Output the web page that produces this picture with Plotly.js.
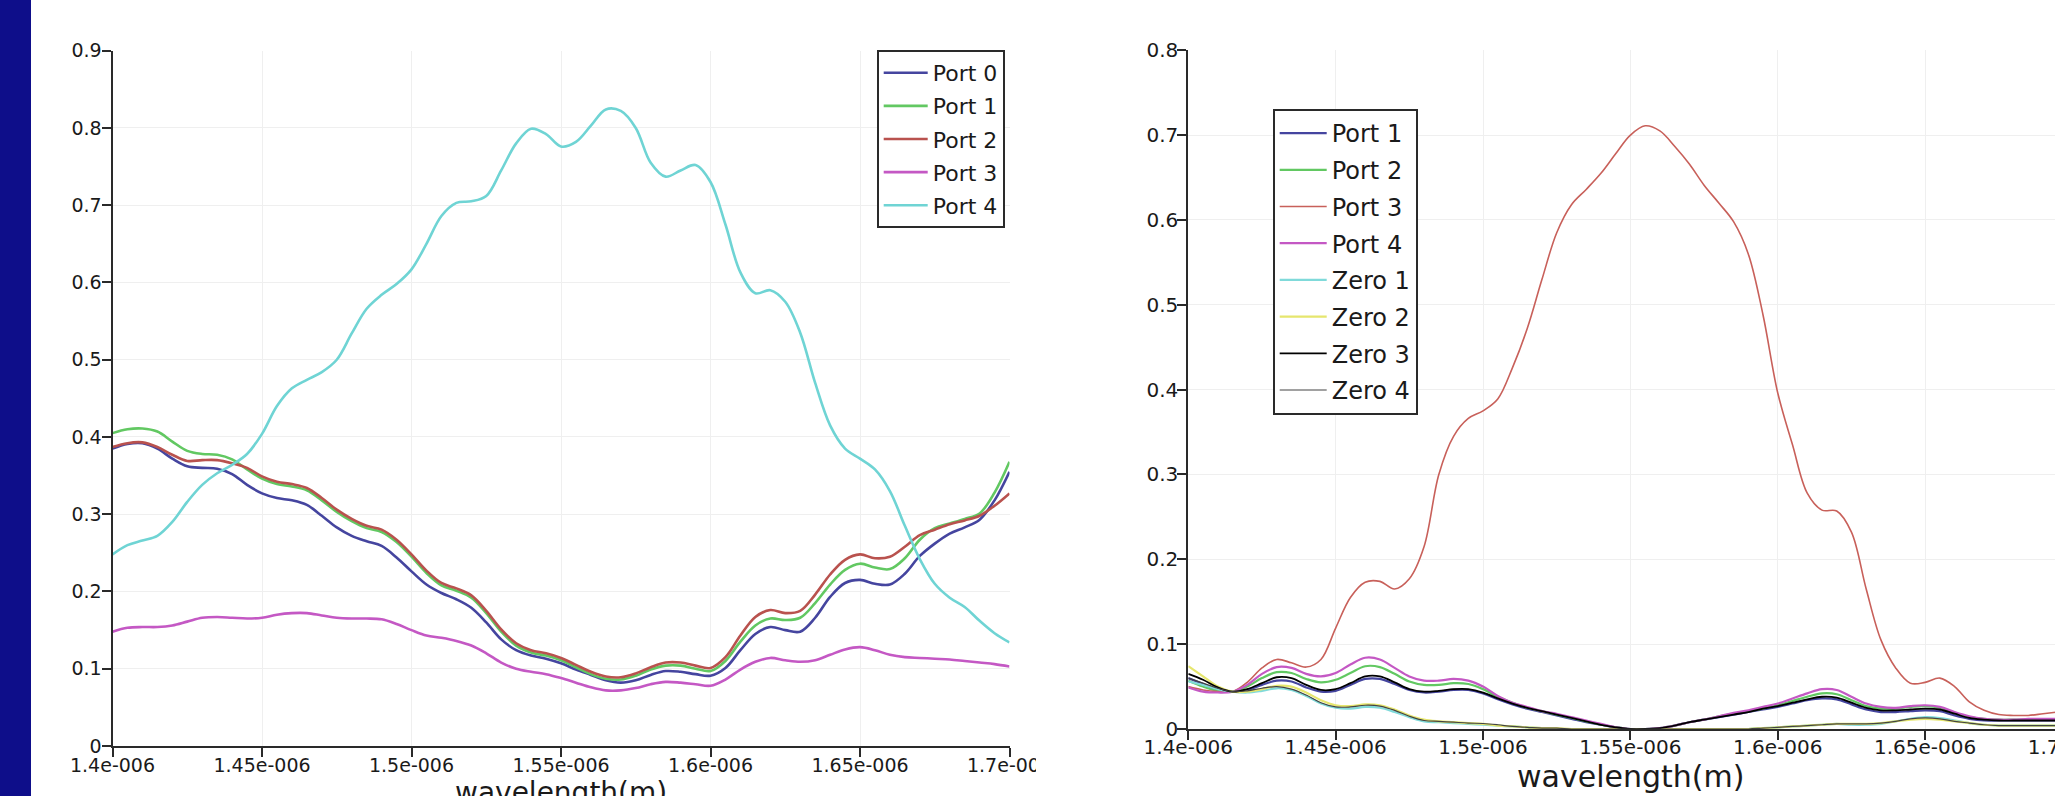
<!DOCTYPE html>
<html>
<head>
<meta charset="utf-8">
<script src="https://cdn.plot.ly/plotly-3.0.1.min.js"></script>
<style>
html,body{margin:0;padding:0;background:#ffffff;overflow:hidden;width:2055px;height:796px;}
#chart{position:absolute;left:0;top:0;}
#bar{position:absolute;left:0;top:0;width:31px;height:796px;background:#0e0e8a;z-index:5;}
</style>
</head>
<body>
<div id="chart"></div>
<div id="bar"></div>
<script>
// ---------- data ----------
const wavelength = [1.400e-6,1.405e-6,1.410e-6,1.415e-6,1.420e-6,1.425e-6,1.430e-6,1.435e-6,1.440e-6,1.445e-6,
  1.450e-6,1.455e-6,1.460e-6,1.465e-6,1.470e-6,1.475e-6,1.480e-6,1.485e-6,1.490e-6,1.495e-6,
  1.500e-6,1.505e-6,1.510e-6,1.515e-6,1.520e-6,1.525e-6,1.530e-6,1.535e-6,1.540e-6,1.545e-6,
  1.550e-6,1.555e-6,1.560e-6,1.565e-6,1.570e-6,1.575e-6,1.580e-6,1.585e-6,1.590e-6,1.595e-6,
  1.600e-6,1.605e-6,1.610e-6,1.615e-6,1.620e-6,1.625e-6,1.630e-6,1.635e-6,1.640e-6,1.645e-6,
  1.650e-6,1.655e-6,1.660e-6,1.665e-6,1.670e-6,1.675e-6,1.680e-6,1.685e-6,1.690e-6,1.695e-6,1.700e-6];

// left chart
const leftNames = ['Port 0','Port 1','Port 2','Port 3','Port 4'];
const leftPort0 = [0.385,0.391,0.392,0.385,0.372,0.362,0.360,0.359,0.352,0.338,
  0.327,0.321,0.318,0.312,0.298,0.283,0.272,0.265,0.259,0.244,
  0.226,0.209,0.198,0.190,0.179,0.160,0.138,0.124,0.117,0.113,
  0.107,0.099,0.092,0.085,0.082,0.085,0.092,0.097,0.096,0.093,
  0.091,0.101,0.124,0.145,0.154,0.150,0.148,0.166,0.193,0.211,
  0.215,0.210,0.209,0.223,0.246,0.262,0.275,0.283,0.293,0.318,0.355];
const leftPort1 = [0.405,0.410,0.411,0.407,0.394,0.382,0.378,0.377,0.371,0.358,
  0.346,0.339,0.336,0.331,0.318,0.303,0.291,0.282,0.277,0.264,
  0.245,0.224,0.208,0.201,0.192,0.172,0.148,0.130,0.121,0.117,
  0.111,0.102,0.093,0.087,0.086,0.091,0.099,0.104,0.104,0.100,
  0.097,0.110,0.135,0.156,0.165,0.163,0.166,0.185,0.209,0.228,
  0.236,0.231,0.229,0.243,0.267,0.282,0.288,0.294,0.301,0.328,0.368];
const leftPort2 = [0.387,0.392,0.393,0.387,0.377,0.369,0.370,0.370,0.366,0.360,
  0.349,0.342,0.339,0.334,0.321,0.306,0.294,0.285,0.280,0.267,
  0.248,0.227,0.211,0.204,0.195,0.175,0.151,0.133,0.124,0.120,
  0.114,0.105,0.096,0.090,0.089,0.094,0.102,0.108,0.108,0.104,
  0.101,0.115,0.143,0.167,0.176,0.172,0.175,0.196,0.222,0.241,
  0.248,0.243,0.245,0.258,0.273,0.280,0.287,0.292,0.298,0.311,0.327];
const leftPort3 = [0.148,0.153,0.154,0.154,0.156,0.161,0.166,0.167,0.166,0.165,
  0.166,0.170,0.172,0.172,0.169,0.166,0.165,0.165,0.164,0.158,
  0.150,0.143,0.140,0.136,0.130,0.120,0.108,0.100,0.096,0.093,
  0.088,0.082,0.076,0.072,0.072,0.075,0.080,0.083,0.082,0.080,
  0.078,0.086,0.099,0.109,0.114,0.111,0.109,0.111,0.118,0.125,
  0.128,0.124,0.118,0.115,0.114,0.113,0.112,0.110,0.108,0.106,0.103];
const leftPort4 = [0.248,0.260,0.266,0.272,0.290,0.316,0.338,0.353,0.364,0.378,
  0.404,0.440,0.463,0.474,0.484,0.500,0.534,0.566,0.584,0.598,
  0.617,0.650,0.686,0.703,0.705,0.712,0.745,0.780,0.799,0.792,
  0.776,0.782,0.803,0.824,0.822,0.800,0.755,0.737,0.745,0.752,
  0.730,0.675,0.613,0.586,0.590,0.575,0.535,0.470,0.415,0.385,
  0.372,0.358,0.330,0.285,0.242,0.210,0.192,0.180,0.162,0.146,0.134];

// right chart
const rightNames = ['Port 1','Port 2','Port 3','Port 4','Zero 1','Zero 2','Zero 3','Zero 4'];
const rightPort1 = [0.060,0.053,0.046,0.044,0.046,0.052,0.057,0.056,0.049,0.044,
  0.045,0.052,0.059,0.059,0.053,0.046,0.043,0.044,0.046,0.046,
  0.042,0.035,0.029,0.024,0.020,0.016,0.012,0.008,0.005,0.002,
  0.000,0.000,0.001,0.004,0.008,0.011,0.014,0.017,0.020,0.023,
  0.026,0.030,0.034,0.036,0.035,0.029,0.023,0.020,0.020,0.021,
  0.022,0.021,0.016,0.012,0.010,0.010,0.010,0.010,0.010,0.010,0.010];
const rightPort2 = [0.057,0.050,0.045,0.044,0.050,0.060,0.067,0.066,0.059,0.055,
  0.058,0.066,0.074,0.073,0.065,0.056,0.052,0.052,0.054,0.053,
  0.047,0.038,0.031,0.025,0.021,0.017,0.013,0.009,0.005,0.002,
  0.000,0.000,0.001,0.004,0.008,0.011,0.015,0.018,0.021,0.024,
  0.028,0.033,0.038,0.042,0.041,0.034,0.027,0.024,0.024,0.026,
  0.027,0.025,0.019,0.014,0.012,0.011,0.011,0.011,0.011,0.011,0.011];
const rightPort3 = [0.050,0.046,0.044,0.044,0.055,0.072,0.082,0.078,0.073,0.082,
  0.119,0.155,0.173,0.174,0.165,0.177,0.215,0.300,0.345,0.366,
  0.375,0.389,0.426,0.472,0.530,0.585,0.618,0.636,0.655,0.678,
  0.700,0.711,0.705,0.687,0.666,0.641,0.620,0.598,0.560,0.488,
  0.396,0.335,0.278,0.258,0.257,0.232,0.165,0.105,0.072,0.054,
  0.055,0.060,0.050,0.032,0.022,0.017,0.016,0.016,0.018,0.020,0.022];
const rightPort4 = [0.049,0.044,0.043,0.044,0.052,0.065,0.073,0.072,0.065,0.062,
  0.066,0.076,0.084,0.082,0.072,0.062,0.057,0.057,0.059,0.057,
  0.050,0.039,0.031,0.026,0.021,0.018,0.014,0.010,0.006,0.002,
  0.000,0.000,0.001,0.004,0.008,0.011,0.015,0.019,0.022,0.026,
  0.030,0.036,0.042,0.047,0.046,0.038,0.030,0.026,0.025,0.027,
  0.028,0.026,0.020,0.015,0.012,0.011,0.011,0.012,0.012,0.012,0.012];
const rightZero1 = [0.056,0.052,0.047,0.044,0.043,0.045,0.048,0.046,0.039,0.030,
  0.025,0.024,0.026,0.025,0.020,0.014,0.009,0.008,0.007,0.006,
  0.005,0.004,0.003,0.002,0.001,0.000,0.000,0.000,0.000,0.000,
  0.000,0.000,0.000,0.000,0.000,0.000,0.000,0.000,0.000,0.001,
  0.002,0.003,0.004,0.005,0.006,0.005,0.005,0.006,0.009,0.012,
  0.014,0.013,0.010,0.007,0.005,0.004,0.004,0.004,0.004,0.004,0.004];
const rightZero2 = [0.074,0.062,0.050,0.044,0.044,0.047,0.051,0.050,0.043,0.034,
  0.028,0.027,0.029,0.028,0.023,0.016,0.011,0.009,0.008,0.007,
  0.006,0.004,0.003,0.002,0.001,0.001,0.000,0.000,0.000,0.000,
  0.000,0.000,0.000,0.000,0.000,0.000,0.000,0.000,0.000,0.001,
  0.002,0.003,0.004,0.005,0.006,0.006,0.006,0.007,0.009,0.011,
  0.012,0.011,0.009,0.007,0.005,0.004,0.004,0.004,0.004,0.004,0.004];
const rightZero3 = [0.065,0.058,0.049,0.044,0.047,0.054,0.061,0.060,0.052,0.046,
  0.047,0.054,0.062,0.062,0.055,0.047,0.044,0.045,0.047,0.047,
  0.043,0.036,0.030,0.025,0.021,0.017,0.013,0.009,0.005,0.002,
  0.000,0.000,0.001,0.004,0.008,0.011,0.014,0.017,0.020,0.024,
  0.027,0.031,0.035,0.038,0.037,0.031,0.025,0.022,0.022,0.023,
  0.024,0.023,0.018,0.013,0.011,0.010,0.010,0.010,0.010,0.010,0.010];
const rightZero4 = [0.060,0.054,0.048,0.044,0.045,0.048,0.050,0.047,0.040,0.031,
  0.026,0.026,0.028,0.027,0.022,0.015,0.010,0.009,0.008,0.007,
  0.0065,0.005,0.003,0.002,0.001,0.001,0.000,0.000,0.000,0.000,
  0.000,0.000,0.000,0.000,0.000,0.000,0.000,0.000,0.000,0.001,
  0.002,0.003,0.004,0.005,0.006,0.006,0.006,0.007,0.009,0.012,
  0.013,0.012,0.009,0.007,0.005,0.004,0.004,0.004,0.004,0.004,0.004];

// tick labels and titles
const xTickVals = [1.40e-6,1.45e-6,1.50e-6,1.55e-6,1.60e-6,1.65e-6,1.70e-6];
const xTickText = ['1.4e-006','1.45e-006','1.5e-006','1.55e-006','1.6e-006','1.65e-006','1.7e-006'];
const leftYTicks = [0,0.1,0.2,0.3,0.4,0.5,0.6,0.7,0.8,0.9];
const rightYTicks = [0,0.1,0.2,0.3,0.4,0.5,0.6,0.7,0.8];
const xTitle = 'wavelength(m)';

// ---------- styling ----------
const W = 2130, H = 796;
const FONT = 'DejaVu Sans, Verdana, sans-serif';
const leftColors = ['#45459f','#62c862','#b9524e','#c458c4','#6fd4d4'];
const rightColors = ['#45459f','#62c862','#c8605a','#c458c4','#80dada','#e6e66e','#000000','#444444'];
const rightWidths = [2.2,2.2,1.6,2.2,2.2,2.2,1.8,1.2];

const leftSeries = [leftPort0,leftPort1,leftPort2,leftPort3,leftPort4];
const rightSeries = [rightPort1,rightPort2,rightPort3,rightPort4,rightZero1,rightZero2,rightZero3,rightZero4];

const traces = [];
leftSeries.forEach((ys,i)=>{
  traces.push({type:'scatter',mode:'lines',x:wavelength,y:ys,name:leftNames[i],
    xaxis:'x',yaxis:'y',legend:'legend',legendgroup:'L'+i,
    line:{color:leftColors[i],width:2.6,shape:'spline',smoothing:1}});
});
rightSeries.forEach((ys,i)=>{
  traces.push({type:'scatter',mode:'lines',x:wavelength,y:ys,name:rightNames[i],
    xaxis:'x2',yaxis:'y2',legend:'legend2',legendgroup:'R'+i,
    line:{color:rightColors[i],width:rightWidths[i],shape:'spline',smoothing:1}});
});

function xAxis(px0,px1,anchor,fs,lblShift){
  return {domain:[px0/W,px1/W],range:[1.4e-6,1.7e-6],anchor:anchor,
    tickmode:'array',tickvals:xTickVals,ticktext:xTickText,
    showline:true,linecolor:'#2a2a2a',linewidth:2,
    ticks:'outside',ticklen:9,tickwidth:2,tickcolor:'#2a2a2a',
    showgrid:true,gridcolor:'#efefef',gridwidth:1,zeroline:false,
    tickfont:{family:FONT,size:fs,color:'#1a1a1a'},
    ticklabelstandoff:lblShift,ticklabeloverflow:'allow',
    automargin:false,fixedrange:true};
}
function yAxis(py0,py1,anchor,top,ticks,fs,lblShift){
  return {domain:[1-py1/H,1-py0/H],range:[0,top],anchor:anchor,
    tickmode:'array',tickvals:ticks,ticktext:ticks.map(v=>String(v)),
    showline:true,linecolor:'#2a2a2a',linewidth:2,
    ticks:'outside',ticklen:9,tickwidth:2,tickcolor:'#2a2a2a',
    showgrid:true,gridcolor:'#efefef',gridwidth:1,zeroline:false,
    tickfont:{family:FONT,size:fs,color:'#1a1a1a'},
    ticklabelstandoff:lblShift,
    automargin:false,fixedrange:true};
}

const layout = {
  width:W,height:H,
  margin:{l:0,r:0,t:0,b:0,pad:0},
  paper_bgcolor:'#ffffff',plot_bgcolor:'#ffffff',
  font:{family:FONT,color:'#1a1a1a'},
  showlegend:true,
  xaxis:xAxis(112.5,1009.5,'y',19,-8),
  yaxis:yAxis(50.7,746,'x',0.9,leftYTicks,19,-4),
  xaxis2:xAxis(1188.3,2072.5,'y2',20,-10),
  yaxis2:yAxis(50.3,729,'x2',0.8,rightYTicks,20,-5),
  legend:{x:876.7/W,y:1-50/H,xanchor:'left',yanchor:'top',
    bgcolor:'#ffffff',bordercolor:'#2a2a2a',borderwidth:2,
    font:{family:FONT,size:22,color:'#1a1a1a'},tracegroupgap:1.5,itemwidth:44},
  legend2:{x:1272.7/W,y:1-109/H,xanchor:'left',yanchor:'top',
    bgcolor:'#ffffff',bordercolor:'#2a2a2a',borderwidth:2,
    font:{family:FONT,size:24,color:'#1a1a1a'},tracegroupgap:2.5,itemwidth:47},
  annotations:[
    {text:xTitle,xref:'paper',yref:'paper',x:(112.5+1009.5)/2/W,y:1-774/H,
     xanchor:'center',yanchor:'top',showarrow:false,font:{family:FONT,size:28,color:'#1a1a1a'}},
    {text:xTitle,xref:'paper',yref:'paper',x:(1188.3+2072.5)/2/W,y:1-757/H,
     xanchor:'center',yanchor:'top',showarrow:false,font:{family:FONT,size:30,color:'#1a1a1a'}}
  ],
  shapes:[{type:'rect',xref:'paper',yref:'paper',layer:'above',
    x0:1036/W,x1:1125/W,y0:0,y1:1-749/H,fillcolor:'#ffffff',line:{width:0}}]
};

Plotly.newPlot('chart',traces,layout,{displayModeBar:false,staticPlot:true});
</script>
</body>
</html>
